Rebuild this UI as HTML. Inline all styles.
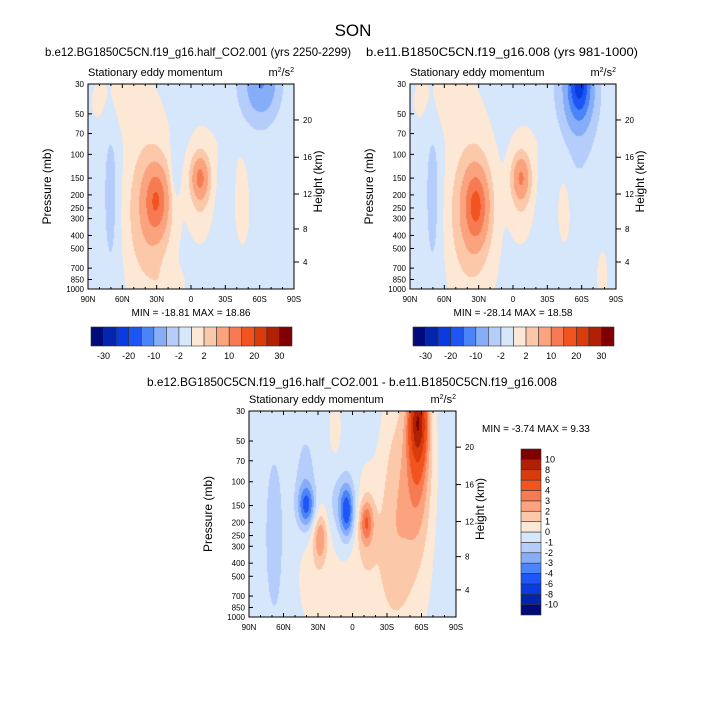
<!DOCTYPE html>
<html><head><meta charset="utf-8"><style>
body{margin:0;background:#fff;width:706px;height:704px;position:relative;overflow:hidden;font-family:"Liberation Sans",sans-serif}
canvas{position:absolute}
svg{position:absolute;left:0;top:0}
</style></head><body>
<canvas id="c1" width="206" height="205" style="left:88px;top:84px"></canvas>
<canvas id="c2" width="206" height="205" style="left:410px;top:84px"></canvas>
<canvas id="c3" width="207" height="206" style="left:249px;top:411px"></canvas>
<svg id="s" width="706" height="704"></svg>
<script>
const colors=["#000a7a","#0324ad","#0a3be0","#1e56f5","#4b84f8","#86aef8","#b5cdfa","#d6e6fb","#fde8d6","#fcc8aa","#faa37e","#f77b52","#f2531f","#d93b0b","#b02005","#7f0000"];
const levelsAbs=[-30,-25,-20,-15,-10,-5,-2,0,2,5,10,15,20,25,30];
const levelsDiff=[-10,-8,-6,-4,-3,-2,-1,0,1,2,3,4,6,8,10];
const absLabels=["-30","-20","-10","-2","2","10","20","30"];
const absLabelIdx=[0,2,4,6,8,10,12,14];
const latTicks=[90,60,30,0,-30,-60,-90];
const latLabels=["90N","60N","30N","0","30S","60S","90S"];
const presTicks=[30,50,70,100,150,200,250,300,400,500,700,850,1000];
const kmTicks=[4,8,12,16,20];
const kmPres=[630,358,197,105,55.5];
// blobs: [lat, pressure, amplitude, sigmaLat, sigmaZ]
const base1=-0.5;
const blobs1=[[30,220,12,7,0.11],[38,260,4,12,0.22],[35,300,1.5,14,0.3],[-8,150,10,5,0.07],[-8,180,2.5,7,0.15],[-62,30,-8,9,0.1],[-55,40,-2,16,0.25],[70,200,-2.5,5,0.3],[62,40,1.3,18,0.12],[-45,220,1.5,5,0.15],[-45,80,1.0,22,0.12],[15,150,-1.5,3,0.12],[20,950,1.2,10,0.06]];
const base2=-0.5;
const blobs2=[[32,240,13,7,0.12],[38,270,4,12,0.22],[35,300,1.5,14,0.3],[-7,150,9,5,0.07],[-7,180,2.5,7,0.15],[-58,30,-19,7,0.12],[-55,45,-4,14,0.25],[70,200,-2.5,5,0.3],[62,40,1.3,18,0.12],[-45,220,1.5,5,0.15],[-45,80,1.0,22,0.12],[-78,800,1.5,3,0.08]];
const base3=-0.5;
const blobs3=[[-57,35,7,5,0.13],[-57,60,3.5,8,0.28],[-48,150,1.3,13,0.45],[-35,150,1.2,9,0.35],[40,150,-3.5,5,0.07],[40,130,-1.5,7,0.2],[5,170,-3.5,4,0.09],[8,150,-1.5,9,0.1],[-12,200,3,4,0.07],[-12,200,1.3,7,0.18],[28,260,2.5,4,0.08],[35,300,1.3,10,0.25],[68,250,-1.3,5,0.25],[-15,600,0.9,28,0.28],[15,40,1,4,0.1]];
const LZ=Math.log(1000/30);
function zOf(p){return Math.log(1000/p)/LZ;}
function xS(lat,x0,w){return x0+(90-lat)/180*w;}
function yS(p,y0,h){return y0+h-zOf(p)*h;}
function field(blobs,base,lat,z){let v=base;for(const b of blobs){const dl=(lat-b[0])/b[3],dz=(z-zOf(b[1]))/b[4];v+=b[2]*Math.exp(-0.5*(dl*dl+dz*dz));}return v;}
function lev(v,L){let i=0;while(i<L.length&&v>=L[i])i++;return i;}
function draw(id,blobs,base,L){const c=document.getElementById(id),ctx=c.getContext('2d');const w=c.width,h=c.height;
for(let j=0;j<h;j+=1)for(let i=0;i<w;i+=1){const lat=90-(i+0.5)/w*180,z=1-(j+0.5)/h;ctx.fillStyle=colors[lev(field(blobs,base,lat,z),L)];ctx.fillRect(i,j,1,1);}}
draw('c1',blobs1,base1,levelsAbs);draw('c2',blobs2,base2,levelsAbs);draw('c3',blobs3,base3,levelsDiff);
const S=document.getElementById('s');const NS="http://www.w3.org/2000/svg";
function el(t,a,txt){const e=document.createElementNS(NS,t);for(const k in a)e.setAttribute(k,a[k]);if(txt!==undefined)e.textContent=txt;S.appendChild(e);return e;}
function axes(x0,y0,w,h,nm){
 const r=el('rect',{x:x0,y:y0,width:w,height:h,fill:'none',stroke:'#000','stroke-width':1});
 
 latTicks.forEach((l,i)=>{const x=xS(l,x0,w);el('line',{x1:x,x2:x,y1:y0+h,y2:y0+h-4,stroke:'#000'});el('line',{x1:x,x2:x,y1:y0,y2:y0+4,stroke:'#000'});
  const t=el('text',{x:x,y:y0+h+13,'font-size':8,'text-anchor':'middle'},latLabels[i]);});
 for(let l=-80;l<=80;l+=10){if(l%30==0)continue;const x=xS(l,x0,w);el('line',{x1:x,x2:x,y1:y0+h,y2:y0+h-2,stroke:'#000'});el('line',{x1:x,x2:x,y1:y0,y2:y0+2,stroke:'#000'});}
 presTicks.forEach(p=>{const y=yS(p,y0,h);el('line',{x1:x0,x2:x0+4,y1:y,y2:y,stroke:'#000'});
  const t=el('text',{x:x0-4,y:y+3,'font-size':8,'text-anchor':'end'},String(p));});
 kmTicks.forEach((k,i)=>{const y=yS(kmPres[i],y0,h);el('line',{x1:x0+w,x2:x0+w+5,y1:y,y2:y,stroke:'#000'});
  const t=el('text',{x:x0+w+9,y:y+3,'font-size':8},String(k));});
 let t=el('text',{x:x0,y:y0-8,'font-size':11},'Stationary eddy momentum');
 t=el('text',{x:x0+w,y:y0-8,'font-size':11,'text-anchor':'end'});t.innerHTML='m<tspan dy="-4" font-size="7">2</tspan><tspan dy="4">/s</tspan><tspan dy="-4" font-size="7">2</tspan>';
 t=el('text',{x:0,y:0,'font-size':12,'text-anchor':'middle',transform:`translate(${x0-37},${y0+h/2}) rotate(-90)`},'Pressure (mb)');
 t=el('text',{x:0,y:0,'font-size':12,'text-anchor':'middle',transform:`translate(${x0+w+28},${y0+h/2-5}) rotate(-90)`},'Height (km)');
}
axes(88,84,206,205,'left');axes(410,84,206,205,'right');axes(249,411,207,206,'diff');
let t=el('text',{x:353,y:36,'font-size':17,'text-anchor':'middle'},'SON');
t=el('text',{x:45,y:56,'font-size':12,textLength:306,lengthAdjust:'spacingAndGlyphs'},'b.e12.BG1850C5CN.f19_g16.half_CO2.001 (yrs 2250-2299)');
t=el('text',{x:366,y:56,'font-size':12,textLength:272,lengthAdjust:'spacingAndGlyphs'},'b.e11.B1850C5CN.f19_g16.008 (yrs 981-1000)');
t=el('text',{x:147,y:386,'font-size':12,textLength:410,lengthAdjust:'spacingAndGlyphs'},'b.e12.BG1850C5CN.f19_g16.half_CO2.001 - b.e11.B1850C5CN.f19_g16.008');
t=el('text',{x:191,y:316,'font-size':10,'text-anchor':'middle'},'MIN = -18.81  MAX =  18.86');
t=el('text',{x:513,y:316,'font-size':10,'text-anchor':'middle'},'MIN = -28.14  MAX =  18.58');
t=el('text',{x:482,y:432,'font-size':10},'MIN =  -3.74  MAX =  9.33');
function hbar(x0,nm){const bw=201/16;colors.forEach((c,i)=>{const r=el('rect',{x:x0+i*bw,y:327,width:bw,height:19,fill:c,stroke:'#333','stroke-width':0.6});});
 absLabelIdx.forEach((k,i)=>{const tt=el('text',{x:x0+(k+1)*bw,y:359,'font-size':9,'text-anchor':'middle'},absLabels[i]);});}
hbar(91,'left');hbar(413,'right');
const bh=166/16;
colors.forEach((c,i)=>{const r=el('rect',{x:521,y:615-(i+1)*bh,width:20,height:bh,fill:c,stroke:'#333','stroke-width':0.6});});
levelsDiff.forEach((v,i)=>{const tt=el('text',{x:545,y:615-(i+1)*bh+3,'font-size':9},String(v));});
</script>
</body></html>
